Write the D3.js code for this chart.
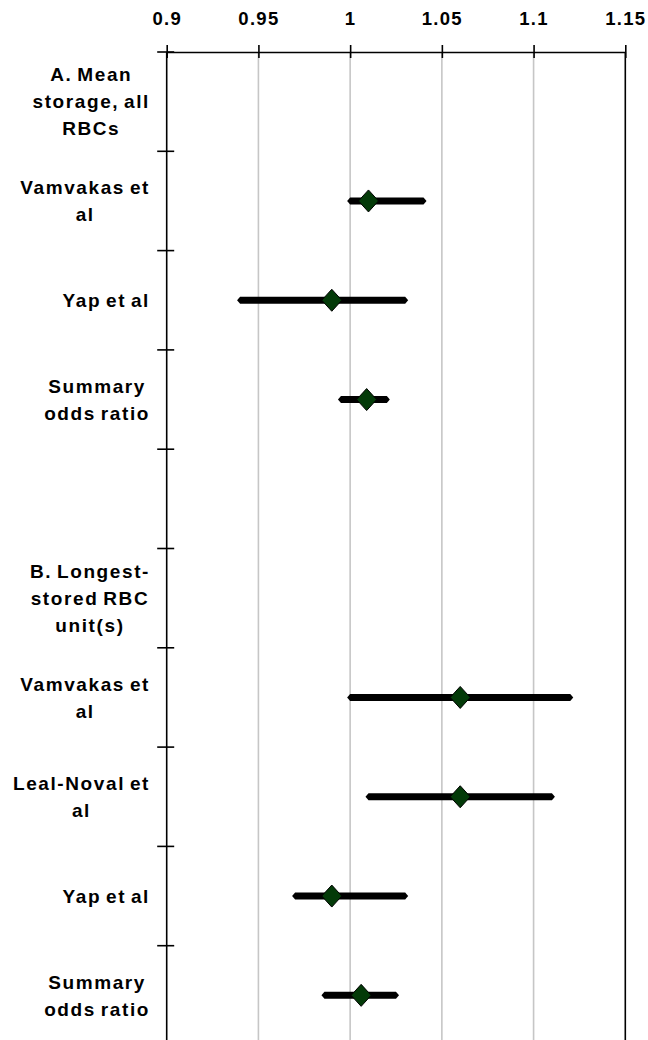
<!DOCTYPE html>
<html>
<head>
<meta charset="utf-8">
<script src="https://cdn.jsdelivr.net/npm/d3@7/dist/d3.min.js"></script>
<style>
  body { margin: 0; background: #fff; }
  svg { display: block; }
  text { font-family: "Liberation Sans", Arial, sans-serif; font-weight: bold; fill: #000; }
</style>
</head>
<body>
<svg id="chart" width="648" height="1040"></svg>
<script>
// Study rows, top to bottom (line breaks as wrapped in the row labels)
const categories = [
  "A. Mean\nstorage, all\nRBCs",
  "Vamvakas et\nal",
  "Yap et al",
  "Summary\nodds ratio",
  "",
  "B. Longest-\nstored RBC\nunit(s)",
  "Vamvakas et\nal",
  "Leal-Noval et\nal",
  "Yap et al",
  "Summary\nodds ratio"
];
// Odds ratio and 95% confidence limits per row (null = heading / spacer row)
const oddsRatio = [null, 1.01, 0.99, 1.009, null, null, 1.06, 1.06, 0.99, 1.006];
const ciLow     = [null, 1.00, 0.94, 0.995, null, null, 1.00, 1.01, 0.97, 0.986];
const ciHigh    = [null, 1.04, 1.03, 1.02,  null, null, 1.12, 1.11, 1.03, 1.025];
const xTicks = [0.9, 0.95, 1, 1.05, 1.1, 1.15];

const svg = d3.select("#chart");
const plotTop = 52, rowH = 99.3;
const x = d3.scaleLinear().domain([0.9, 1.15]).range([166.7, 625.3]);
const y = d3.scaleBand().domain(d3.range(categories.length))
  .range([plotTop, plotTop + rowH * categories.length]).paddingInner(0).paddingOuter(0);
const plotBottom = plotTop + rowH * categories.length;

// vertical gridlines
svg.append("g").selectAll("line")
  .data(xTicks.slice(1, -1)).join("line")
  .attr("x1", d => x(d)).attr("x2", d => x(d))
  .attr("y1", plotTop).attr("y2", plotBottom)
  .attr("stroke", "#c6c6c6").attr("stroke-width", 1.6);

// right frame line at the upper end of the scale
svg.append("line")
  .attr("x1", x(1.15)).attr("x2", x(1.15))
  .attr("y1", plotTop).attr("y2", plotBottom)
  .attr("stroke", "#000").attr("stroke-width", 1.6);

// top value axis
const xAxis = d3.axisTop(x).tickValues(xTicks).tickFormat(d => d).tickSizeOuter(0);
const gx = svg.append("g").attr("transform", `translate(0,${plotTop})`).call(xAxis);
gx.select(".domain").attr("stroke", "#000").attr("stroke-width", 1.6);
gx.selectAll(".tick line").attr("y1", 6).attr("y2", -7).attr("stroke", "#000").attr("stroke-width", 1.6);
gx.selectAll(".tick text")
  .attr("y", -27).attr("dy", 0)
  .style("font-family", "'Liberation Sans', Arial, sans-serif")
  .style("font-weight", "bold").style("font-size", "18.5px")
  .style("letter-spacing", "1.3px").attr("fill", "#000");

// left category axis with ticks on the row boundaries
const gy = svg.append("g");
gy.append("line")
  .attr("x1", x(0.9)).attr("x2", x(0.9))
  .attr("y1", plotTop).attr("y2", plotBottom)
  .attr("stroke", "#000").attr("stroke-width", 1.6);
gy.selectAll("line.tick")
  .data(d3.range(categories.length + 1)).join("line")
  .attr("class", "tick")
  .attr("x1", x(0.9) - 9.5).attr("x2", x(0.9) + 7.5)
  .attr("y1", i => plotTop + i * y.step()).attr("y2", i => plotTop + i * y.step())
  .attr("stroke", "#000").attr("stroke-width", 1.6);

// row labels: each block centred on its own widest line, block right-aligned near the axis
const labelRight = 150, lineGap = 27;
categories.forEach((c, i) => {
  if (!c) return;
  const lines = c.split("\n");
  const cy = y(i) + y.bandwidth() / 2;
  const t = svg.append("text")
    .style("font-size", "19px").style("letter-spacing", "1.6px").style("word-spacing", "-2px")
    .attr("text-anchor", "middle");
  const spans = lines.map((s, k) => t.append("tspan")
    .attr("y", cy + (k - (lines.length - 1) / 2) * lineGap)
    .attr("dy", "0.36em").text(s));
  const w = d3.max(spans, s => s.node().getComputedTextLength());
  spans.forEach(s => s.attr("x", labelRight - w / 2));
});

// confidence intervals (thick bars with tapered ends) and point estimates
const rows = d3.range(categories.length).filter(i => oddsRatio[i] != null);
const half = 3.5, taper = 3;
svg.append("g").selectAll("path")
  .data(rows).join("path")
  .attr("d", i => {
    const cy = y(i) + y.bandwidth() / 2;
    const a = x(ciLow[i]), b = x(ciHigh[i]);
    return d3.line()([[a - taper, cy], [a, cy - half], [b, cy - half], [b + taper, cy],
                      [b, cy + half], [a, cy + half]]) + "Z";
  })
  .attr("fill", "#000");

svg.append("g").selectAll("path")
  .data(rows).join("path")
  .attr("d", i => {
    const cy = y(i) + y.bandwidth() / 2;
    const cx = x(oddsRatio[i]);
    return d3.line()([[cx - 10, cy], [cx, cy - 11], [cx + 10, cy], [cx, cy + 11]]) + "Z";
  })
  .attr("fill", "#033a08").attr("stroke", "#000").attr("stroke-width", 1);
</script>
</body>
</html>
